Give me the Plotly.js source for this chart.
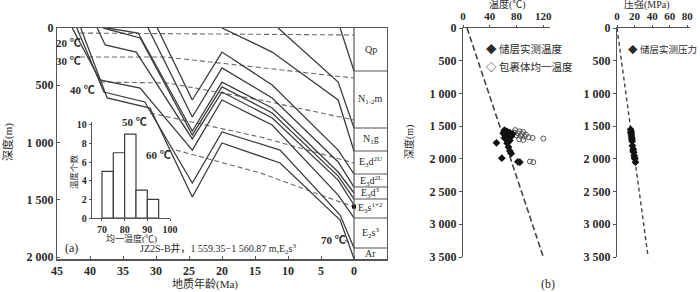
<!DOCTYPE html>
<html><head><meta charset="utf-8">
<script src="https://cdn.plot.ly/plotly-3.0.1.min.js"></script>
<style>html,body{margin:0;padding:0;background:#fff}#c{width:700px;height:292px}</style>
</head><body><div id="c"></div>
<script>
// ---------- Panel (a): burial history, age (Ma) vs depth (m) ----------
const qpAge = [2.1, 0],                 qpDepth = [0, 376];
const nmAge = [11.5, 2.4, 0],           nmDepth = [0, 472, 873];
const ngAge = [20, 12.4, 2.4, 0],       ngDepth = [0, 210, 629, 1074];
const d2uAge = [29.8, 24.5, 20, 12.4, 2.4, 0], d2uDepth = [0, 629, 210, 498, 1066, 1275];
const d2lAge = [31.2, 24.5, 20, 12.4, 2.4, 0], d2lDepth = [0, 777, 349, 611, 1170, 1389];
const d3aAge = [37.4, 32.7, 24.5, 20, 12.4, 2.4, 0], d3aDepth = [0, 44, 900, 472, 699, 1258, 1441];
const d3bAge = [38.0, 32.4, 24.5, 20, 12.4, 2.4, 0], d3bDepth = [0, 87, 934, 515, 742, 1293, 1493];
const s12Age = [38.9, 37.7, 33.0, 24.5, 20, 12.4, 2.4, 0], s12Depth = [0, 148, 210, 969, 559, 786, 1328, 1546];
const s3aAge = [42.7, 38.5, 32.4, 24.5, 20, 12.4, 2.4, 0], s3aDepth = [0, 454, 524, 1066, 629, 847, 1459, 1659];
const s3bAge = [42.0, 37.9, 31.7, 24.5, 20, 11.2, 2.1, 0], s3bDepth = [0, 559, 646, 1354, 908, 1066, 1633, 1921];
const s3cAge = [41.4, 37.4, 30.9, 24.5, 20, 11.2, 2.1, 0], s3cDepth = [0, 611, 699, 1476, 1004, 1179, 1677, 2015];

// isotherms
const t20Age = [41.5, 0],              t20Depth = [44, 61];
const t30Age = [41.5, 28.6, 0],        t30Depth = [253, 253, 437];
const t40Age = [38.5, 28.3, 14.2, 0],  t40Depth = [472, 480, 629, 803];
const t50Age = [30.9, 14.2, 0],        t50Depth = [742, 952, 1179];
const t60Age = [27.0, 14.2, 0],        t60Depth = [1066, 1266, 1563];
const t70Age = [1.4, 0],               t70Depth = [1852, 1895];
const isoLabels = ["20 ℃", "30 ℃", "40 ℃", "50 ℃", "60 ℃", "70 ℃"];

// stratigraphic column
const strataNames = ["Qp", "N<sub>1-2</sub>m", "N<sub>1</sub>g", "E<sub>3</sub>d<sup>2U</sup>", "E<sub>3</sub>d<sup>2L</sup>",
                     "E<sub>3</sub>d<sup>3</sup>", "E<sub>3</sub>s<sup>1+2</sup>", "E<sub>2</sub>s<sup>3</sup>", "Ar"];
const strataTop  = [0, 376, 873, 1074, 1275, 1389, 1493, 1659, 1921];
const strataBase = [376, 873, 1074, 1275, 1389, 1493, 1659, 1921, 2020];

// sample
const sampleAge = [0], sampleDepth = [1560];

// inset histogram of homogenization temperatures
const histBins = [72.5, 77.5, 82.5, 87.5, 92.5];
const histCounts = [5, 7, 9, 3, 2];

// ---------- Panel (b): temperature vs depth ----------
const measTemp  = [62, 66, 70, 60, 74, 64, 68, 72, 62, 66, 70, 50, 66, 68, 70, 72, 58, 82, 85];
const measDepth = [1560, 1580, 1600, 1610, 1620, 1640, 1650, 1660, 1680, 1700, 1720, 1755, 1760, 1820, 1880, 1920, 1990, 2045, 2050];
const inclTemp  = [78, 84, 90, 76, 82, 88, 94, 80, 86, 92, 98, 104, 120, 84, 90, 100, 105];
const inclDepth = [1560, 1580, 1590, 1600, 1610, 1620, 1630, 1640, 1650, 1660, 1670, 1680, 1690, 1700, 1710, 2040, 2050];
const gradTemp = [6, 120], gradDepth = [0, 3500];

// ---------- Panel (c): pressure vs depth ----------
const pres      = [15.5, 16, 15.8, 16.2, 16.5, 16.8, 17, 17.2, 17.5, 18.5, 18.3, 19, 19.5, 20, 20.3, 21];
const presDepth = [1550, 1580, 1600, 1620, 1650, 1680, 1700, 1730, 1800, 1850, 1880, 1900, 1950, 1980, 2000, 2050];
const hydroPres = [0, 35.4], hydroDepth = [0, 3500];

// ---------- drawing ----------
const W = 700, H = 292;
const PX = x => x / W, PY = y => 1 - y / H;
const F = "Liberation Serif, Times New Roman, Noto Sans CJK SC, serif";
const TXT = '#2a2a2a';
const tf = (s) => ({family: F, size: s, color: TXT, weight: 'bold'});

const burial = [[qpAge,qpDepth],[nmAge,nmDepth],[ngAge,ngDepth],[d2uAge,d2uDepth],[d2lAge,d2lDepth],
  [d3aAge,d3aDepth],[d3bAge,d3bDepth],[s12Age,s12Depth],[s3aAge,s3aDepth],[s3bAge,s3bDepth],[s3cAge,s3cDepth]];
const iso = [[t20Age,t20Depth],[t30Age,t30Depth],[t40Age,t40Depth],[t50Age,t50Depth],[t60Age,t60Depth],[t70Age,t70Depth]];

const traces = [];
iso.forEach(([a,d]) => traces.push({type:'scatter', mode:'lines', x:a, y:d, xaxis:'x', yaxis:'y',
  line:{color:'#6a6a6a', width:1.1, dash:'5px,3px'}, hoverinfo:'skip'}));
burial.forEach(([a,d]) => traces.push({type:'scatter', mode:'lines', x:a, y:d, xaxis:'x', yaxis:'y',
  line:{color:'#3c3c3c', width:1.3}, hoverinfo:'skip'}));
traces.push({type:'scatter', mode:'markers', x:sampleAge, y:sampleDepth, xaxis:'x', yaxis:'y',
  marker:{symbol:'square', size:4, color:'#000'}, cliponaxis:false});
traces.push({type:'bar', x:histBins, y:histCounts, width:5, xaxis:'x2', yaxis:'y2',
  marker:{color:'#fff', line:{color:'#3c3c3c', width:1.2}}});
traces.push({type:'scatter', mode:'lines', x:gradTemp, y:gradDepth, xaxis:'x3', yaxis:'y3',
  line:{color:'#444', width:1.6, dash:'6px,3px'}});
traces.push({type:'scatter', mode:'markers', x:inclTemp, y:inclDepth, xaxis:'x3', yaxis:'y3',
  marker:{symbol:'circle-open', size:5, color:'#555', line:{width:1}}});
traces.push({type:'scatter', mode:'markers', x:measTemp, y:measDepth, xaxis:'x3', yaxis:'y3',
  marker:{symbol:'diamond', size:6, color:'#111'}});
traces.push({type:'scatter', mode:'lines', x:hydroPres, y:hydroDepth, xaxis:'x4', yaxis:'y4',
  line:{color:'#444', width:1.4, dash:'4px,3px'}});
traces.push({type:'scatter', mode:'markers', x:pres, y:presDepth, xaxis:'x4', yaxis:'y4',
  marker:{symbol:'diamond', size:6, color:'#111'}});

const ax = (o) => Object.assign({showline:true, linecolor:'#555', linewidth:1.2, showgrid:false, zeroline:false,
  ticks:'outside', ticklen:3, tickcolor:'#555', tickfont:tf(12), fixedrange:true}, o);
const depthTicks = [0,500,1000,1500,2000,2500,3000,3500];
const depthText = ['0','500','1 000','1 500','2 000','2 500','3 000','3 500'];

const shapes = [{type:'line', xref:'x', yref:'y', x0:0, x1:0, y0:0, y1:strataBase[strataBase.length-1],
  line:{color:'#555', width:1.2}}];
strataBase.slice(0,-1).forEach(b => shapes.push({type:'line', xref:'x', yref:'y', x0:0, x1:-5, y0:b, y1:b,
  line:{color:'#555', width:1.1}}));

const ann = [];
const A = (x, y, text, size, extra) => ann.push(Object.assign({xref:'paper', yref:'paper', x:PX(x), y:PY(y),
  text:text, showarrow:false, font:{family:F, size:size, color:TXT}, xanchor:'center', yanchor:'middle'}, extra||{}));
strataNames.forEach((n,i) => ann.push({xref:'x', yref:'y', x:-2.5, y:(strataTop[i]+strataBase[i])/2, text:n,
  showarrow:false, font:{family:F, size:10, color:TXT}, xanchor:'center', yanchor:'middle'}));
const isoPos = [[68,43],[68,61],[82,90],[134,122],[158,155],[333,240]];
isoLabels.forEach((t,i) => A(isoPos[i][0], isoPos[i][1], t, 11, {font:{family:F, size:11, color:TXT, weight:'bold'}}));
A(8, 142, '深度(m)', 11, {textangle:-90});
A(205, 284, '地质年龄(Ma)', 11);
A(71, 248, '(a)', 12);
A(138, 249, 'JZ2S-B井，1 559.35−1 560.87 m,E<sub>2</sub>s<sup>3</sup>', 10, {xanchor:'left'});
A(74, 172, '温度个数', 8.5, {textangle:-90});
A(131, 238, '均一温度(℃)', 9);
A(507, 5, '温度(℃)', 10);
A(647, 5, '压强(MPa)', 10);
A(410, 142, '深度(m)', 10, {textangle:-90});
A(548, 284, '(b)', 12);
A(484, 49, '◆ 储层实测温度', 10.5, {xanchor:'left'});
A(484, 67, '◇ 包裹体均一温度', 10.5, {xanchor:'left'});
A(626, 49, '◆ 储层实测压力', 9.5, {xanchor:'left'});

const layout = {
  width:W, height:H, margin:{l:0,r:0,t:0,b:0}, paper_bgcolor:'#fff', plot_bgcolor:'rgba(0,0,0,0)',
  showlegend:false, bargap:0,
  xaxis: ax({domain:[PX(57),PX(387)], range:[45,-5], anchor:'y', tickvals:[45,40,35,30,25,20,15,10,5,0],
    ticks:'inside', mirror:true}),
  yaxis: ax({domain:[PY(259.3),PY(28)], range:[2020,0], anchor:'x', tickvals:[0,500,1000,1500,2000],
    ticktext:['0','500','1 000','1 500','2 000'], ticks:'inside', mirror:true}),
  xaxis2: ax({domain:[PX(92),PX(170)], range:[65.6,100], anchor:'y2', tickvals:[70,80,90,100], tickfont:tf(10), ticklen:2}),
  yaxis2: ax({domain:[PY(218),PY(122)], range:[0,10.3], anchor:'x2', tickvals:[0,2,4,6,8,10], tickfont:tf(10), ticklen:2}),
  xaxis3: ax({domain:[PX(463),PX(550)], range:[0,130], anchor:'y3', side:'top', tickvals:[0,40,80,120], tickfont:tf(11), ticklen:2}),
  yaxis3: ax({domain:[PY(257),PY(28)], range:[3500,0], anchor:'x3', tickvals:depthTicks, ticktext:depthText}),
  xaxis4: ax({domain:[PX(617),PX(690)], range:[0,83], anchor:'y4', side:'top', tickvals:[0,20,40,60,80], tickfont:tf(11), ticklen:2}),
  yaxis4: ax({domain:[PY(257),PY(28)], range:[3500,0], anchor:'x4', tickvals:depthTicks, ticktext:depthText}),
  shapes:shapes, annotations: ann
};
Plotly.newPlot('c', traces, layout, {displayModeBar:false, staticPlot:true});
</script></body></html>
